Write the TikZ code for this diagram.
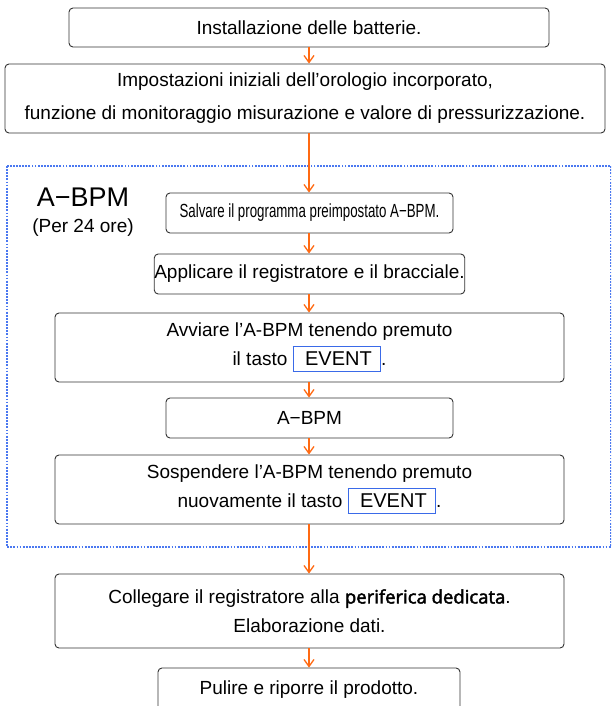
\documentclass[tikz,border=0pt]{standalone}
\usepackage{fontspec}
\setmainfont{Liberation Sans}
\newfontfamily\humfont[FakeBold=2.2]{Open Sans}
\usetikzlibrary{arrows.meta}
\definecolor{arrorange}{HTML}{FF6A13}
\definecolor{frameblue}{HTML}{4A78F0}
\definecolor{evblue}{HTML}{3A6AE8}
\definecolor{boxline}{HTML}{333333}
\newcommand{\evtkey}{{\setlength{\fboxsep}{5.5pt}\setlength{\fboxrule}{0.9pt}\fcolorbox{evblue}{white}{\hspace{6pt}\fontsize{20}{29}\selectfont EVENT\hspace{3pt}}}}
\tikzset{
  stepbox/.style={draw=boxline, line width=0.9pt, rounded corners=4pt, align=center,
    inner sep=0pt, font=\fontsize{19}{29}\selectfont},
  flowarrow/.style={draw=arrorange, line width=1.6pt, -{Straight Barb[length=7pt,width=10pt,line width=1.3pt]}},
  groupframe/.style={draw=frameblue, line width=2.2pt, dash pattern=on 1.8pt off 1.3pt}
}
\begin{document}
\begin{tikzpicture}[x=1pt,y=-1pt]
\clip (0,0) rectangle (611,706);
\useasboundingbox (0,0) rectangle (611,706);
\fill[white] (0,0) rectangle (611,706);

\draw[groupframe] (7,166) rectangle (611,547);

\node[stepbox, minimum width=480pt, minimum height=39pt] (b1) at (309,27.5) {Installazione delle batterie.};
\node[stepbox, minimum width=600pt, minimum height=69pt] (b2) at (305,98.5)
  {Impostazioni iniziali dell’orologio incorporato,\\[4pt]funzione di monitoraggio misurazione e valore di pressurizzazione.};

\node[font=\fontsize{27}{30}\selectfont] (grp) at (83,197) {A−BPM};
\node[font=\fontsize{19}{22}\selectfont] (grpsub) at (83,228) {(Per 24 ore)};

\node[stepbox, minimum width=287pt, minimum height=40pt] (b3) at (309.5,213)
  {\scalebox{0.70}[1]{Salvare il programma preimpostato A−BPM.}};
\node[stepbox, minimum width=287pt, minimum height=40pt] (b4) at (309.5,274)
  {Applicare il registratore e il bracciale.};
\node[stepbox, minimum width=509pt, minimum height=69pt] (b5) at (309.5,347.5)
  {Avviare l’A-BPM tenendo premuto\\il tasto \evtkey.};
\node[stepbox, minimum width=287pt, minimum height=40pt] (b6) at (309.5,418) {A−BPM};
\node[stepbox, minimum width=509pt, minimum height=69pt] (b7) at (309.5,489.5)
  {Sospendere l’A-BPM tenendo premuto\\nuovamente il tasto \evtkey.};
\node[stepbox, minimum width=509pt, minimum height=74pt] (b8) at (309.5,611)
  {Collegare il registratore alla {\humfont\fontsize{18.5}{29}\selectfont periferica dedicata}.\\Elaborazione dati.};
\node[stepbox, minimum width=302pt, minimum height=44pt] (b9) at (309,690)
  {Pulire e riporre il prodotto.};

\draw[flowarrow] (b1.south -| 309,0) -- (b2.north -| 309,0);
\draw[flowarrow] (b2.south -| 309,0) -- (b3.north -| 309,0);
\draw[flowarrow] (b3.south -| 309,0) -- (b4.north -| 309,0);
\draw[flowarrow] (b4.south -| 309,0) -- (b5.north -| 309,0);
\draw[flowarrow] (b5.south -| 309,0) -- (b6.north -| 309,0);
\draw[flowarrow] (b6.south -| 309,0) -- (b7.north -| 309,0);
\draw[flowarrow] (b7.south -| 309,0) -- (b8.north -| 309,0);
\draw[flowarrow] (b8.south -| 309,0) -- (b9.north -| 309,0);
\end{tikzpicture}
\end{document}
